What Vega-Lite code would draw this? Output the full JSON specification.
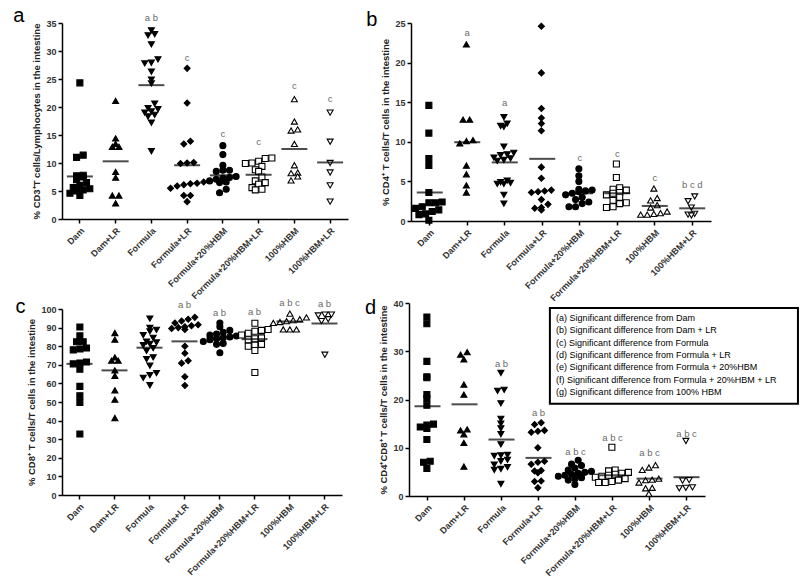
{
  "$schema": "https://vega.github.io/schema/vega-lite/v6.json",
  "padding": {"left": 13, "top": 6, "right": 0, "bottom": 0},
  "config": {
    "view": {"stroke": null},
    "font": "Liberation Sans",
    "axis": {"domainColor": "black", "domainWidth": 1.5, "tickColor": "black", "tickWidth": 1.5, "tickSize": 4, "labelFont": "Liberation Sans", "labelFontWeight": "bold", "labelColor": "#333", "labelFontSize": 9, "titleFont": "Liberation Sans", "titleFontWeight": "bold", "titleFontSize": 9.5, "titleColor": "#222", "grid": false, "labelPadding": 2, "labelOverlap": false},
    "axisX": {"labelAngle": -45, "title": null, "labelPadding": 3},
    "axisY": {"titlePadding": 4}
  },
  "datasets": {
    "pa": [
      {"g":"Dam","v":24.3},{"g":"Dam","v":11.4},{"g":"Dam","v":11.0},{"g":"Dam","v":7.8},{"g":"Dam","v":7.7},{"g":"Dam","v":7.5},{"g":"Dam","v":7.0},{"g":"Dam","v":6.5},{"g":"Dam","v":6.0},{"g":"Dam","v":5.6},{"g":"Dam","v":5.4},{"g":"Dam","v":5.2},{"g":"Dam","v":5.0},{"g":"Dam","v":4.6},{"g":"Dam","v":4.2},
      {"g":"Dam+LR","v":21.1},{"g":"Dam+LR","v":14.4},{"g":"Dam+LR","v":13.4},{"g":"Dam+LR","v":12.9},{"g":"Dam+LR","v":12.9},{"g":"Dam+LR","v":8.4},{"g":"Dam+LR","v":7.4},{"g":"Dam+LR","v":4.2},{"g":"Dam+LR","v":4.2},{"g":"Dam+LR","v":2.8},
      {"g":"Formula","v":33.7},{"g":"Formula","v":33.0},{"g":"Formula","v":32.8},{"g":"Formula","v":31.2},{"g":"Formula","v":28.5},{"g":"Formula","v":27.9},{"g":"Formula","v":27.8},{"g":"Formula","v":26.3},{"g":"Formula","v":24.9},{"g":"Formula","v":24.2},{"g":"Formula","v":20.6},{"g":"Formula","v":19.8},{"g":"Formula","v":19.6},{"g":"Formula","v":19.2},{"g":"Formula","v":19.0},{"g":"Formula","v":18.6},{"g":"Formula","v":18.3},{"g":"Formula","v":17.2},{"g":"Formula","v":12.1},
      {"g":"Formula+LR","v":26.9},{"g":"Formula+LR","v":20.7},{"g":"Formula+LR","v":13.9},{"g":"Formula+LR","v":13.4},{"g":"Formula+LR","v":10.1},{"g":"Formula+LR","v":10.0},{"g":"Formula+LR","v":9.9},{"g":"Formula+LR","v":6.6},{"g":"Formula+LR","v":6.4},{"g":"Formula+LR","v":6.3},{"g":"Formula+LR","v":6.1},{"g":"Formula+LR","v":5.9},{"g":"Formula+LR","v":5.5},{"g":"Formula+LR","v":4.2},{"g":"Formula+LR","v":4.2},{"g":"Formula+LR","v":3.1},
      {"g":"Formula+20%HBM","v":13.1},{"g":"Formula+20%HBM","v":11.5},{"g":"Formula+20%HBM","v":9.6},{"g":"Formula+20%HBM","v":8.7},{"g":"Formula+20%HBM","v":8.7},{"g":"Formula+20%HBM","v":8.5},{"g":"Formula+20%HBM","v":7.6},{"g":"Formula+20%HBM","v":7.4},{"g":"Formula+20%HBM","v":7.3},{"g":"Formula+20%HBM","v":7.1},{"g":"Formula+20%HBM","v":6.8},{"g":"Formula+20%HBM","v":6.6},{"g":"Formula+20%HBM","v":6.5},{"g":"Formula+20%HBM","v":5.3},{"g":"Formula+20%HBM","v":4.7},
      {"g":"Formula+20%HBM+LR","v":10.9},{"g":"Formula+20%HBM+LR","v":10.8},{"g":"Formula+20%HBM+LR","v":10.3},{"g":"Formula+20%HBM+LR","v":10.0},{"g":"Formula+20%HBM+LR","v":9.9},{"g":"Formula+20%HBM+LR","v":9.4},{"g":"Formula+20%HBM+LR","v":8.8},{"g":"Formula+20%HBM+LR","v":8.5},{"g":"Formula+20%HBM+LR","v":7.5},{"g":"Formula+20%HBM+LR","v":6.8},{"g":"Formula+20%HBM+LR","v":6.5},{"g":"Formula+20%HBM+LR","v":6.2},{"g":"Formula+20%HBM+LR","v":5.6},{"g":"Formula+20%HBM+LR","v":5.3},{"g":"Formula+20%HBM+LR","v":5.2},
      {"g":"100%HBM","v":21.4},{"g":"100%HBM","v":17.4},{"g":"100%HBM","v":16.0},{"g":"100%HBM","v":15.8},{"g":"100%HBM","v":13.4},{"g":"100%HBM","v":9.6},{"g":"100%HBM","v":8.3},{"g":"100%HBM","v":8.2},{"g":"100%HBM","v":7.6},{"g":"100%HBM","v":6.9},
      {"g":"100%HBM+LR","v":19.0},{"g":"100%HBM+LR","v":13.8},{"g":"100%HBM+LR","v":10.0},{"g":"100%HBM+LR","v":8.3},{"g":"100%HBM+LR","v":6.0},{"g":"100%HBM+LR","v":3.1}
    ],
    "pb": [
      {"g":"Dam","v":14.6},{"g":"Dam","v":11.1},{"g":"Dam","v":7.9},{"g":"Dam","v":7.0},{"g":"Dam","v":3.6},{"g":"Dam","v":2.4},{"g":"Dam","v":2.3},{"g":"Dam","v":2.3},{"g":"Dam","v":1.8},{"g":"Dam","v":1.6},{"g":"Dam","v":1.4},{"g":"Dam","v":1.2},{"g":"Dam","v":0.9},{"g":"Dam","v":0.8},{"g":"Dam","v":0.1},
      {"g":"Dam+LR","v":22.3},{"g":"Dam+LR","v":12.8},{"g":"Dam+LR","v":12.8},{"g":"Dam+LR","v":10.2},{"g":"Dam+LR","v":10.1},{"g":"Dam+LR","v":9.8},{"g":"Dam+LR","v":7.0},{"g":"Dam+LR","v":5.9},{"g":"Dam+LR","v":4.5},{"g":"Dam+LR","v":3.6},
      {"g":"Formula","v":13.1},{"g":"Formula","v":12.3},{"g":"Formula","v":12.0},{"g":"Formula","v":11.9},{"g":"Formula","v":9.4},{"g":"Formula","v":8.6},{"g":"Formula","v":8.4},{"g":"Formula","v":8.3},{"g":"Formula","v":8.0},{"g":"Formula","v":7.9},{"g":"Formula","v":7.7},{"g":"Formula","v":7.6},{"g":"Formula","v":5.1},{"g":"Formula","v":4.9},{"g":"Formula","v":4.8},{"g":"Formula","v":4.7},{"g":"Formula","v":4.7},{"g":"Formula","v":3.3},{"g":"Formula","v":2.2},
      {"g":"Formula+LR","v":24.6},{"g":"Formula+LR","v":18.7},{"g":"Formula+LR","v":14.2},{"g":"Formula+LR","v":13.0},{"g":"Formula+LR","v":12.3},{"g":"Formula+LR","v":11.4},{"g":"Formula+LR","v":6.8},{"g":"Formula+LR","v":5.4},{"g":"Formula+LR","v":3.9},{"g":"Formula+LR","v":3.8},{"g":"Formula+LR","v":3.7},{"g":"Formula+LR","v":3.6},{"g":"Formula+LR","v":2.7},{"g":"Formula+LR","v":2.1},{"g":"Formula+LR","v":1.7},{"g":"Formula+LR","v":1.6},{"g":"Formula+LR","v":1.4},
      {"g":"Formula+20%HBM","v":6.6},{"g":"Formula+20%HBM","v":5.7},{"g":"Formula+20%HBM","v":5.0},{"g":"Formula+20%HBM","v":4.0},{"g":"Formula+20%HBM","v":3.9},{"g":"Formula+20%HBM","v":3.8},{"g":"Formula+20%HBM","v":3.7},{"g":"Formula+20%HBM","v":3.5},{"g":"Formula+20%HBM","v":3.3},{"g":"Formula+20%HBM","v":3.0},{"g":"Formula+20%HBM","v":2.7},{"g":"Formula+20%HBM","v":2.4},{"g":"Formula+20%HBM","v":2.2},{"g":"Formula+20%HBM","v":1.8},{"g":"Formula+20%HBM","v":1.8},
      {"g":"Formula+20%HBM+LR","v":7.2},{"g":"Formula+20%HBM+LR","v":5.5},{"g":"Formula+20%HBM+LR","v":4.2},{"g":"Formula+20%HBM+LR","v":4.0},{"g":"Formula+20%HBM+LR","v":3.9},{"g":"Formula+20%HBM+LR","v":3.6},{"g":"Formula+20%HBM+LR","v":3.5},{"g":"Formula+20%HBM+LR","v":3.3},{"g":"Formula+20%HBM+LR","v":3.0},{"g":"Formula+20%HBM+LR","v":2.6},{"g":"Formula+20%HBM+LR","v":2.3},{"g":"Formula+20%HBM+LR","v":2.2},{"g":"Formula+20%HBM+LR","v":1.8},{"g":"Formula+20%HBM+LR","v":1.7},
      {"g":"100%HBM","v":4.1},{"g":"100%HBM","v":2.9},{"g":"100%HBM","v":2.6},{"g":"100%HBM","v":2.0},{"g":"100%HBM","v":1.7},{"g":"100%HBM","v":1.2},{"g":"100%HBM","v":1.0},{"g":"100%HBM","v":0.9},{"g":"100%HBM","v":0.8},{"g":"100%HBM","v":0.8},
      {"g":"100%HBM+LR","v":3.1},{"g":"100%HBM+LR","v":2.5},{"g":"100%HBM+LR","v":1.7},{"g":"100%HBM+LR","v":0.9},{"g":"100%HBM+LR","v":0.8},{"g":"100%HBM+LR","v":0.7}
    ],
    "pc": [
      {"g":"Dam","v":90.3},{"g":"Dam","v":85.6},{"g":"Dam","v":82.4},{"g":"Dam","v":82.4},{"g":"Dam","v":79.0},{"g":"Dam","v":78.5},{"g":"Dam","v":78.0},{"g":"Dam","v":71.5},{"g":"Dam","v":71.0},{"g":"Dam","v":70.5},{"g":"Dam","v":67.6},{"g":"Dam","v":58.4},{"g":"Dam","v":53.4},{"g":"Dam","v":49.8},{"g":"Dam","v":32.8},
      {"g":"Dam+LR","v":87.1},{"g":"Dam+LR","v":83.5},{"g":"Dam+LR","v":74.0},{"g":"Dam+LR","v":72.2},{"g":"Dam+LR","v":72.2},{"g":"Dam+LR","v":67.0},{"g":"Dam+LR","v":64.1},{"g":"Dam+LR","v":56.3},{"g":"Dam+LR","v":51.3},{"g":"Dam+LR","v":41.4},
      {"g":"Formula","v":94.8},{"g":"Formula","v":89.8},{"g":"Formula","v":88.8},{"g":"Formula","v":88.0},{"g":"Formula","v":86.0},{"g":"Formula","v":84.5},{"g":"Formula","v":82.5},{"g":"Formula","v":82.0},{"g":"Formula","v":81.3},{"g":"Formula","v":80.5},{"g":"Formula","v":79.0},{"g":"Formula","v":77.5},{"g":"Formula","v":74.0},{"g":"Formula","v":73.0},{"g":"Formula","v":69.5},{"g":"Formula","v":65.5},{"g":"Formula","v":64.5},{"g":"Formula","v":63.0},{"g":"Formula","v":59.0},
      {"g":"Formula+LR","v":95.5},{"g":"Formula+LR","v":94.5},{"g":"Formula+LR","v":93.5},{"g":"Formula+LR","v":92.5},{"g":"Formula+LR","v":91.5},{"g":"Formula+LR","v":91.0},{"g":"Formula+LR","v":90.5},{"g":"Formula+LR","v":90.0},{"g":"Formula+LR","v":89.5},{"g":"Formula+LR","v":89.0},{"g":"Formula+LR","v":80.0},{"g":"Formula+LR","v":76.2},{"g":"Formula+LR","v":72.2},{"g":"Formula+LR","v":70.9},{"g":"Formula+LR","v":63.6},{"g":"Formula+LR","v":58.9},
      {"g":"Formula+20%HBM","v":92.5},{"g":"Formula+20%HBM","v":90.5},{"g":"Formula+20%HBM","v":88.5},{"g":"Formula+20%HBM","v":87.5},{"g":"Formula+20%HBM","v":86.5},{"g":"Formula+20%HBM","v":86.0},{"g":"Formula+20%HBM","v":85.5},{"g":"Formula+20%HBM","v":85.0},{"g":"Formula+20%HBM","v":84.5},{"g":"Formula+20%HBM","v":84.0},{"g":"Formula+20%HBM","v":83.5},{"g":"Formula+20%HBM","v":82.5},{"g":"Formula+20%HBM","v":81.5},{"g":"Formula+20%HBM","v":81.0},{"g":"Formula+20%HBM","v":76.5},
      {"g":"Formula+20%HBM+LR","v":92.3},{"g":"Formula+20%HBM+LR","v":89.0},{"g":"Formula+20%HBM+LR","v":88.5},{"g":"Formula+20%HBM+LR","v":88.0},{"g":"Formula+20%HBM+LR","v":87.0},{"g":"Formula+20%HBM+LR","v":86.0},{"g":"Formula+20%HBM+LR","v":84.5},{"g":"Formula+20%HBM+LR","v":84.0},{"g":"Formula+20%HBM+LR","v":83.5},{"g":"Formula+20%HBM+LR","v":81.0},{"g":"Formula+20%HBM+LR","v":80.5},{"g":"Formula+20%HBM+LR","v":80.0},{"g":"Formula+20%HBM+LR","v":77.7},{"g":"Formula+20%HBM+LR","v":65.9},
      {"g":"100%HBM","v":97.5},{"g":"100%HBM","v":95.5},{"g":"100%HBM","v":94.5},{"g":"100%HBM","v":94.0},{"g":"100%HBM","v":93.5},{"g":"100%HBM","v":93.0},{"g":"100%HBM","v":92.5},{"g":"100%HBM","v":89.0},{"g":"100%HBM","v":89.0},{"g":"100%HBM","v":89.0},
      {"g":"100%HBM+LR","v":97.0},{"g":"100%HBM+LR","v":97.0},{"g":"100%HBM+LR","v":96.5},{"g":"100%HBM+LR","v":94.5},{"g":"100%HBM+LR","v":93.5},{"g":"100%HBM+LR","v":75.4}
    ],
    "pd": [
      {"g":"Dam","v":37.1},{"g":"Dam","v":35.7},{"g":"Dam","v":27.9},{"g":"Dam","v":24.7},{"g":"Dam","v":24.5},{"g":"Dam","v":21.0},{"g":"Dam","v":20.2},{"g":"Dam","v":18.8},{"g":"Dam","v":14.9},{"g":"Dam","v":14.7},{"g":"Dam","v":14.3},{"g":"Dam","v":14.0},{"g":"Dam","v":11.7},{"g":"Dam","v":7.2},{"g":"Dam","v":7.0},{"g":"Dam","v":5.7},
      {"g":"Dam+LR","v":29.8},{"g":"Dam+LR","v":29.3},{"g":"Dam+LR","v":28.3},{"g":"Dam+LR","v":23.1},{"g":"Dam+LR","v":21.0},{"g":"Dam+LR","v":13.8},{"g":"Dam+LR","v":13.6},{"g":"Dam+LR","v":12.8},{"g":"Dam+LR","v":11.0},{"g":"Dam+LR","v":6.1},
      {"g":"Formula","v":25.5},{"g":"Formula","v":22.0},{"g":"Formula","v":21.8},{"g":"Formula","v":19.2},{"g":"Formula","v":16.0},{"g":"Formula","v":15.0},{"g":"Formula","v":14.0},{"g":"Formula","v":12.8},{"g":"Formula","v":10.7},{"g":"Formula","v":8.5},{"g":"Formula","v":8.4},{"g":"Formula","v":8.3},{"g":"Formula","v":7.5},{"g":"Formula","v":7.2},{"g":"Formula","v":6.5},{"g":"Formula","v":6.0},{"g":"Formula","v":5.6},{"g":"Formula","v":5.4},{"g":"Formula","v":2.5},
      {"g":"Formula+LR","v":15.2},{"g":"Formula+LR","v":14.8},{"g":"Formula+LR","v":13.6},{"g":"Formula+LR","v":13.4},{"g":"Formula+LR","v":13.2},{"g":"Formula+LR","v":10.0},{"g":"Formula+LR","v":7.2},{"g":"Formula+LR","v":7.0},{"g":"Formula+LR","v":6.6},{"g":"Formula+LR","v":5.3},{"g":"Formula+LR","v":5.2},{"g":"Formula+LR","v":4.8},{"g":"Formula+LR","v":3.1},{"g":"Formula+LR","v":3.0},{"g":"Formula+LR","v":1.7},
      {"g":"Formula+20%HBM","v":7.4},{"g":"Formula+20%HBM","v":6.6},{"g":"Formula+20%HBM","v":6.3},{"g":"Formula+20%HBM","v":5.8},{"g":"Formula+20%HBM","v":5.4},{"g":"Formula+20%HBM","v":5.1},{"g":"Formula+20%HBM","v":4.9},{"g":"Formula+20%HBM","v":4.7},{"g":"Formula+20%HBM","v":4.5},{"g":"Formula+20%HBM","v":4.3},{"g":"Formula+20%HBM","v":4.1},{"g":"Formula+20%HBM","v":3.8},{"g":"Formula+20%HBM","v":3.6},{"g":"Formula+20%HBM","v":3.3},{"g":"Formula+20%HBM","v":2.4},
      {"g":"Formula+20%HBM+LR","v":10.1},{"g":"Formula+20%HBM+LR","v":5.4},{"g":"Formula+20%HBM+LR","v":5.2},{"g":"Formula+20%HBM+LR","v":4.9},{"g":"Formula+20%HBM+LR","v":4.7},{"g":"Formula+20%HBM+LR","v":4.5},{"g":"Formula+20%HBM+LR","v":4.3},{"g":"Formula+20%HBM+LR","v":4.1},{"g":"Formula+20%HBM+LR","v":3.9},{"g":"Formula+20%HBM+LR","v":3.6},{"g":"Formula+20%HBM+LR","v":3.3},{"g":"Formula+20%HBM+LR","v":3.0},{"g":"Formula+20%HBM+LR","v":2.8},{"g":"Formula+20%HBM+LR","v":2.8},
      {"g":"100%HBM","v":6.4},{"g":"100%HBM","v":5.9},{"g":"100%HBM","v":5.4},{"g":"100%HBM","v":3.6},{"g":"100%HBM","v":3.4},{"g":"100%HBM","v":3.3},{"g":"100%HBM","v":2.8},{"g":"100%HBM","v":1.7},{"g":"100%HBM","v":1.6},{"g":"100%HBM","v":0.5},
      {"g":"100%HBM+LR","v":11.4},{"g":"100%HBM+LR","v":3.3},{"g":"100%HBM+LR","v":3.2},{"g":"100%HBM+LR","v":1.8},{"g":"100%HBM+LR","v":1.7},{"g":"100%HBM+LR","v":1.6}
    ],
    "ma": [{"g":"Dam","v":7.6},{"g":"Dam+LR","v":10.3},{"g":"Formula","v":23.9},{"g":"Formula+LR","v":9.6},{"g":"Formula+20%HBM","v":7.8},{"g":"Formula+20%HBM+LR","v":7.9},{"g":"100%HBM","v":12.5},{"g":"100%HBM+LR","v":10.1}],
    "mb": [{"g":"Dam","v":3.6},{"g":"Dam+LR","v":9.95},{"g":"Formula","v":7.4},{"g":"Formula+LR","v":7.85},{"g":"Formula+20%HBM","v":3.5},{"g":"Formula+20%HBM+LR","v":3.5},{"g":"100%HBM","v":1.9},{"g":"100%HBM+LR","v":1.6}],
    "mc": [{"g":"Dam","v":70.5},{"g":"Dam+LR","v":67.0},{"g":"Formula","v":79.2},{"g":"Formula+LR","v":82.6},{"g":"Formula+20%HBM","v":84.7},{"g":"Formula+20%HBM+LR","v":83.8},{"g":"100%HBM","v":93.3},{"g":"100%HBM+LR","v":92.2}],
    "md": [{"g":"Dam","v":18.6},{"g":"Dam+LR","v":19.0},{"g":"Formula","v":11.7},{"g":"Formula+LR","v":7.9},{"g":"Formula+20%HBM","v":4.7},{"g":"Formula+20%HBM+LR","v":4.3},{"g":"100%HBM","v":3.6},{"g":"100%HBM+LR","v":3.9}],
    "ta": [{"g":"Formula","v":35.9,"t":"a b"},{"g":"Formula+LR","v":28.7,"t":"c"},{"g":"Formula+20%HBM","v":15.1,"t":"c"},{"g":"Formula+20%HBM+LR","v":13.8,"t":"c"},{"g":"100%HBM","v":23.8,"t":"c"},{"g":"100%HBM+LR","v":21.4,"t":"c"}],
    "tb": [{"g":"Dam+LR","v":23.8,"t":"a"},{"g":"Formula","v":14.9,"t":"a"},{"g":"Formula+20%HBM","v":7.9,"t":"c"},{"g":"Formula+20%HBM+LR","v":8.4,"t":"c"},{"g":"100%HBM","v":5.4,"t":"c"},{"g":"100%HBM+LR","v":4.6,"t":"b c d"}],
    "tc": [{"g":"Formula+LR","v":102.1,"t":"a b"},{"g":"Formula+20%HBM","v":97.7,"t":"a b"},{"g":"Formula+20%HBM+LR","v":98.2,"t":"a b"},{"g":"100%HBM","v":103.0,"t":"a b c"},{"g":"100%HBM+LR","v":102.5,"t":"a b"}],
    "td": [{"g":"Formula","v":27.4,"t":"a b"},{"g":"Formula+LR","v":17.2,"t":"a b"},{"g":"Formula+20%HBM","v":9.2,"t":"a b c"},{"g":"Formula+20%HBM+LR","v":12.1,"t":"a b c"},{"g":"100%HBM","v":9.0,"t":"a b c"},{"g":"100%HBM+LR","v":12.9,"t":"a b c"}],
    "leg": [
      {"k":0,"t":"(a) Significant difference from Dam"},
      {"k":1,"t":"(b) Significant difference from Dam + LR"},
      {"k":2,"t":"(c)  Significant difference from Formula"},
      {"k":3,"t":"(d) Significant difference from Formula + LR"},
      {"k":4,"t":"(e) Significant difference from Formula + 20%HBM"},
      {"k":5,"t":"(f) Significant difference from Formula + 20%HBM + LR"},
      {"k":6,"t":"(g) Significant difference from 100% HBM"}
    ]
  },
  "vconcat": [
    {
      "hconcat": [
        {
          "width": 286, "height": 196,
          "encoding": {
            "x": {"field": "g", "type": "nominal", "sort": null, "scale": {"domain": ["Dam","Dam+LR","Formula","Formula+LR","Formula+20%HBM","Formula+20%HBM+LR","100%HBM","100%HBM+LR"], "paddingInner": 0, "paddingOuter": 0}},
            "y": {"field": "v", "type": "quantitative", "scale": {"domain": [0, 35], "nice": false}, "axis": {"values": [0,5,10,15,20,25,30,35], "labelOverlap": false, "title": "% CD3⁺T cells/Lymphocytes in the intestine"}}
          },
          "layer": [
            {
              "data": {"name": "pa"},
              "transform": [
                {"calculate": "floor(datum.v / 1.1)", "as": "bin"},
                {"window": [{"op": "row_number", "as": "r"}], "groupby": ["g", "bin"], "sort": [{"field": "v"}]},
                {"joinaggregate": [{"op": "count", "as": "n"}], "groupby": ["g", "bin"]},
                {"calculate": "datum.r - 1 - (datum.n - 1) / 2", "as": "off"}
              ],
              "mark": {"type": "point", "filled": true, "stroke": "black", "strokeWidth": 1.1, "size": 36, "opacity": 1},
              "encoding": {
                "xOffset": {"field": "off", "type": "quantitative", "scale": {"domain": [-2.6, 2.6]}},
                "shape": {"field": "g", "type": "nominal", "scale": {"domain": ["Dam","Dam+LR","Formula","Formula+LR","Formula+20%HBM","Formula+20%HBM+LR","100%HBM","100%HBM+LR"], "range": ["square","triangle-up","triangle-down","diamond","circle","square","triangle-up","triangle-down"]}, "legend": null},
                "fill": {"field": "g", "type": "nominal", "scale": {"domain": ["Dam","Dam+LR","Formula","Formula+LR","Formula+20%HBM","Formula+20%HBM+LR","100%HBM","100%HBM+LR"], "range": ["black","black","black","black","black","white","white","white"]}, "legend": null}
              }
            },
            {"data": {"name": "ma"}, "mark": {"type": "tick", "color": "black", "thickness": 2, "size": 26}},
            {"data": {"name": "ta"}, "mark": {"type": "text", "color": "#6a6a6a", "fontSize": 9.5, "baseline": "middle"}, "encoding": {"text": {"field": "t"}}},
            {"data": {"values": [{"g": "Dam", "v": 35, "t": "a"}]}, "mark": {"type": "text", "fontSize": 20, "color": "black", "baseline": "alphabetic", "align": "center", "dx": -61, "dy": -1}, "encoding": {"text": {"field": "t"}}}
          ]
        },
        {
          "width": 300, "height": 198,
          "encoding": {
            "x": {"field": "g", "type": "nominal", "sort": null, "scale": {"domain": ["Dam","Dam+LR","Formula","Formula+LR","Formula+20%HBM","Formula+20%HBM+LR","100%HBM","100%HBM+LR"], "paddingInner": 0, "paddingOuter": 0}},
            "y": {"field": "v", "type": "quantitative", "scale": {"domain": [0, 25], "nice": false}, "axis": {"values": [0,5,10,15,20,25], "labelOverlap": false, "title": "% CD4⁺ T cells/T cells in the intestine"}}
          },
          "layer": [
            {
              "data": {"name": "pb"},
              "transform": [
                {"calculate": "floor(datum.v / 0.8)", "as": "bin"},
                {"window": [{"op": "row_number", "as": "r"}], "groupby": ["g", "bin"], "sort": [{"field": "v"}]},
                {"joinaggregate": [{"op": "count", "as": "n"}], "groupby": ["g", "bin"]},
                {"calculate": "datum.r - 1 - (datum.n - 1) / 2", "as": "off"}
              ],
              "mark": {"type": "point", "filled": true, "stroke": "black", "strokeWidth": 1.1, "size": 36, "opacity": 1},
              "encoding": {
                "xOffset": {"field": "off", "type": "quantitative", "scale": {"domain": [-2.7, 2.7]}},
                "shape": {"field": "g", "type": "nominal", "scale": {"domain": ["Dam","Dam+LR","Formula","Formula+LR","Formula+20%HBM","Formula+20%HBM+LR","100%HBM","100%HBM+LR"], "range": ["square","triangle-up","triangle-down","diamond","circle","square","triangle-up","triangle-down"]}, "legend": null},
                "fill": {"field": "g", "type": "nominal", "scale": {"domain": ["Dam","Dam+LR","Formula","Formula+LR","Formula+20%HBM","Formula+20%HBM+LR","100%HBM","100%HBM+LR"], "range": ["black","black","black","black","black","white","white","white"]}, "legend": null}
              }
            },
            {"data": {"name": "mb"}, "mark": {"type": "tick", "color": "black", "thickness": 2, "size": 26}},
            {"data": {"name": "tb"}, "mark": {"type": "text", "color": "#6a6a6a", "fontSize": 9.5, "baseline": "middle"}, "encoding": {"text": {"field": "t"}}},
            {"data": {"values": [{"g": "Dam", "v": 25, "t": "b"}]}, "mark": {"type": "text", "fontSize": 20, "color": "black", "baseline": "alphabetic", "align": "center", "dx": -58, "dy": 3}, "encoding": {"text": {"field": "t"}}}
          ]
        }
      ],
      "spacing": 18
    },
    {
      "hconcat": [
        {
          "width": 280, "height": 192,
          "encoding": {
            "x": {"field": "g", "type": "nominal", "sort": null, "scale": {"domain": ["Dam","Dam+LR","Formula","Formula+LR","Formula+20%HBM","Formula+20%HBM+LR","100%HBM","100%HBM+LR"], "paddingInner": 0, "paddingOuter": 0}},
            "y": {"field": "v", "type": "quantitative", "scale": {"domain": [0, 100], "nice": false, "range": [192, 6]}, "axis": {"values": [0,10,20,30,40,50,60,70,80,90,100], "labelOverlap": false, "title": "% CD8⁺ T cells/T cells in the intestine"}}
          },
          "layer": [
            {
              "data": {"name": "pc"},
              "transform": [
                {"calculate": "floor(datum.v / 3.3)", "as": "bin"},
                {"window": [{"op": "row_number", "as": "r"}], "groupby": ["g", "bin"], "sort": [{"field": "v"}]},
                {"joinaggregate": [{"op": "count", "as": "n"}], "groupby": ["g", "bin"]},
                {"calculate": "datum.r - 1 - (datum.n - 1) / 2", "as": "off"}
              ],
              "mark": {"type": "point", "filled": true, "stroke": "black", "strokeWidth": 1.1, "size": 36, "opacity": 1},
              "encoding": {
                "xOffset": {"field": "off", "type": "quantitative", "scale": {"domain": [-2.5, 2.5]}},
                "shape": {"field": "g", "type": "nominal", "scale": {"domain": ["Dam","Dam+LR","Formula","Formula+LR","Formula+20%HBM","Formula+20%HBM+LR","100%HBM","100%HBM+LR"], "range": ["square","triangle-up","triangle-down","diamond","circle","square","triangle-up","triangle-down"]}, "legend": null},
                "fill": {"field": "g", "type": "nominal", "scale": {"domain": ["Dam","Dam+LR","Formula","Formula+LR","Formula+20%HBM","Formula+20%HBM+LR","100%HBM","100%HBM+LR"], "range": ["black","black","black","black","black","white","white","white"]}, "legend": null}
              }
            },
            {"data": {"name": "mc"}, "mark": {"type": "tick", "color": "black", "thickness": 2, "size": 26}},
            {"data": {"name": "tc"}, "mark": {"type": "text", "color": "#6a6a6a", "fontSize": 9.5, "baseline": "middle"}, "encoding": {"text": {"field": "t"}}},
            {"data": {"values": [{"g": "Dam", "v": 100, "t": "c"}]}, "mark": {"type": "text", "fontSize": 20, "color": "black", "baseline": "alphabetic", "align": "center", "dx": -59, "dy": 4}, "encoding": {"text": {"field": "t"}}}
          ]
        },
        {
          "width": 296, "height": 193,
          "layer": [
            {
              "encoding": {
                "x": {"field": "g", "type": "nominal", "sort": null, "scale": {"domain": ["Dam","Dam+LR","Formula","Formula+LR","Formula+20%HBM","Formula+20%HBM+LR","100%HBM","100%HBM+LR"], "paddingInner": 0, "paddingOuter": 0}},
                "y": {"field": "v", "type": "quantitative", "scale": {"domain": [0, 40], "nice": false}, "axis": {"values": [0,10,20,30,40], "labelOverlap": false, "title": "% CD4⁺CD8⁺ T cells/T cells in the intestine"}}
              },
              "layer": [
                {
                  "data": {"name": "pd"},
                  "transform": [
                    {"calculate": "floor(datum.v / 1.3)", "as": "bin"},
                    {"window": [{"op": "row_number", "as": "r"}], "groupby": ["g", "bin"], "sort": [{"field": "v"}]},
                    {"joinaggregate": [{"op": "count", "as": "n"}], "groupby": ["g", "bin"]},
                    {"calculate": "datum.r - 1 - (datum.n - 1) / 2", "as": "off"}
                  ],
                  "mark": {"type": "point", "filled": true, "stroke": "black", "strokeWidth": 1.1, "size": 36, "opacity": 1},
                  "encoding": {
                    "xOffset": {"field": "off", "type": "quantitative", "scale": {"domain": [-2.7, 2.7]}},
                    "shape": {"field": "g", "type": "nominal", "scale": {"domain": ["Dam","Dam+LR","Formula","Formula+LR","Formula+20%HBM","Formula+20%HBM+LR","100%HBM","100%HBM+LR"], "range": ["square","triangle-up","triangle-down","diamond","circle","square","triangle-up","triangle-down"]}, "legend": null},
                    "fill": {"field": "g", "type": "nominal", "scale": {"domain": ["Dam","Dam+LR","Formula","Formula+LR","Formula+20%HBM","Formula+20%HBM+LR","100%HBM","100%HBM+LR"], "range": ["black","black","black","black","black","white","white","white"]}, "legend": null}
                  }
                },
                {"data": {"name": "md"}, "mark": {"type": "tick", "color": "black", "thickness": 2, "size": 26}},
                {"data": {"name": "td"}, "mark": {"type": "text", "color": "#6a6a6a", "fontSize": 9.5, "baseline": "middle"}, "encoding": {"text": {"field": "t"}}},
                {"data": {"values": [{"g": "Dam", "v": 40, "t": "d"}]}, "mark": {"type": "text", "fontSize": 20, "color": "black", "baseline": "alphabetic", "align": "center", "dx": -57, "dy": 11}, "encoding": {"text": {"field": "t"}}}
              ]
            },
            {
              "layer": [
                {
                  "data": {"values": [{}]},
                  "mark": {"type": "rect", "fill": "white", "stroke": "black", "strokeWidth": 2},
                  "encoding": {
                    "x": {"datum": 0.476, "type": "quantitative", "scale": {"domain": [0, 1], "nice": false, "zero": false}, "axis": null},
                    "x2": {"datum": 1.314},
                    "y": {"datum": -0.81, "type": "quantitative", "scale": {"domain": [-1.216, 14.46], "nice": false, "zero": false, "reverse": true}, "axis": null},
                    "y2": {"datum": 6.97}
                  }
                },
                {
                  "data": {"name": "leg"},
                  "mark": {"type": "text", "align": "left", "baseline": "middle", "fontSize": 9, "color": "black"},
                  "encoding": {
                    "x": {"datum": 0.497, "type": "quantitative"},
                    "y": {"field": "k", "type": "quantitative"},
                    "text": {"field": "t"}
                  }
                }
              ]
            }
          ],
          "resolve": {"scale": {"x": "independent", "y": "independent"}}
        }
      ],
      "spacing": 22
    }
  ],
  "spacing": -10
}
